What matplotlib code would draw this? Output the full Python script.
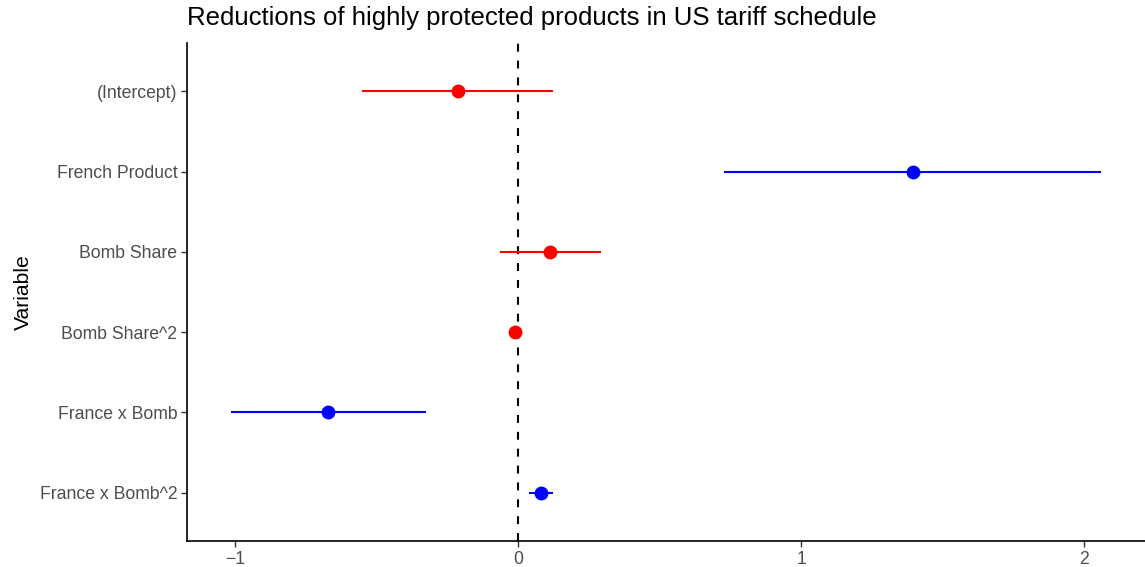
import matplotlib
matplotlib.use("Agg")
import matplotlib.pyplot as plt

# Coefficient estimates with 95% confidence bounds
variables = ["(Intercept)", "French Product", "Bomb Share", "Bomb Share^2",
             "France x Bomb", "France x Bomb^2"]
estimates = [-0.212, 1.395, 0.114, -0.012, -0.672, 0.080]
lower = [-0.551, 0.727, -0.063, -0.020, -1.017, 0.039]
upper = [0.124, 2.062, 0.293, -0.004, -0.326, 0.122]
colors = ["red", "blue", "red", "red", "blue", "blue"]
x_ticks = [-1, 0, 1, 2]

plt.rcParams["font.family"] = ["Liberation Sans", "DejaVu Sans"]

fig = plt.figure(figsize=(11.45, 5.67), dpi=100)
ax = fig.add_axes([187 / 1145, 26 / 567, 958 / 1145, 498 / 567])

n = len(variables)
ypos = list(range(n, 0, -1))

ax.axvline(0, color="black", lw=1.5, ls=(0, (3.8, 4.3)), zorder=1)
for y, est, lo, hi, c in zip(ypos, estimates, lower, upper, colors):
    ax.plot([lo, hi], [y, y], color=c, lw=1.5, solid_capstyle="butt", zorder=2)
    ax.plot(est, y, "o", color=c, markersize=10, markeredgewidth=0, zorder=3)

span = max(upper) - min(lower)
ax.set_xlim(min(lower) - 0.05 * span, max(upper) + 0.05 * span)
ax.set_ylim(0.4, n + 0.6)

ax.set_yticks(ypos)
ax.set_yticklabels(variables)
ax.set_xticks(x_ticks)
ax.set_xticklabels(["\u22121", "0", "1", "2"])

for side in ("top", "right"):
    ax.spines[side].set_visible(False)
for side in ("left", "bottom"):
    ax.spines[side].set_linewidth(1.2)
    ax.spines[side].set_color("black")

ax.tick_params(axis="both", colors="#333333", labelcolor="#4D4D4D",
               labelsize=12.7, length=4, width=1.0, pad=3)

ax.set_ylabel("Variable", fontsize=15.2, color="black")
ax.yaxis.set_label_coords(-0.161, 0.5)
ax.set_title("Reductions of highly protected products in US tariff schedule",
             fontsize=18.5, loc="left", pad=13, color="black")
ax.title.set_x(0.002)

fig.savefig("out.png", dpi=100, facecolor="white")
